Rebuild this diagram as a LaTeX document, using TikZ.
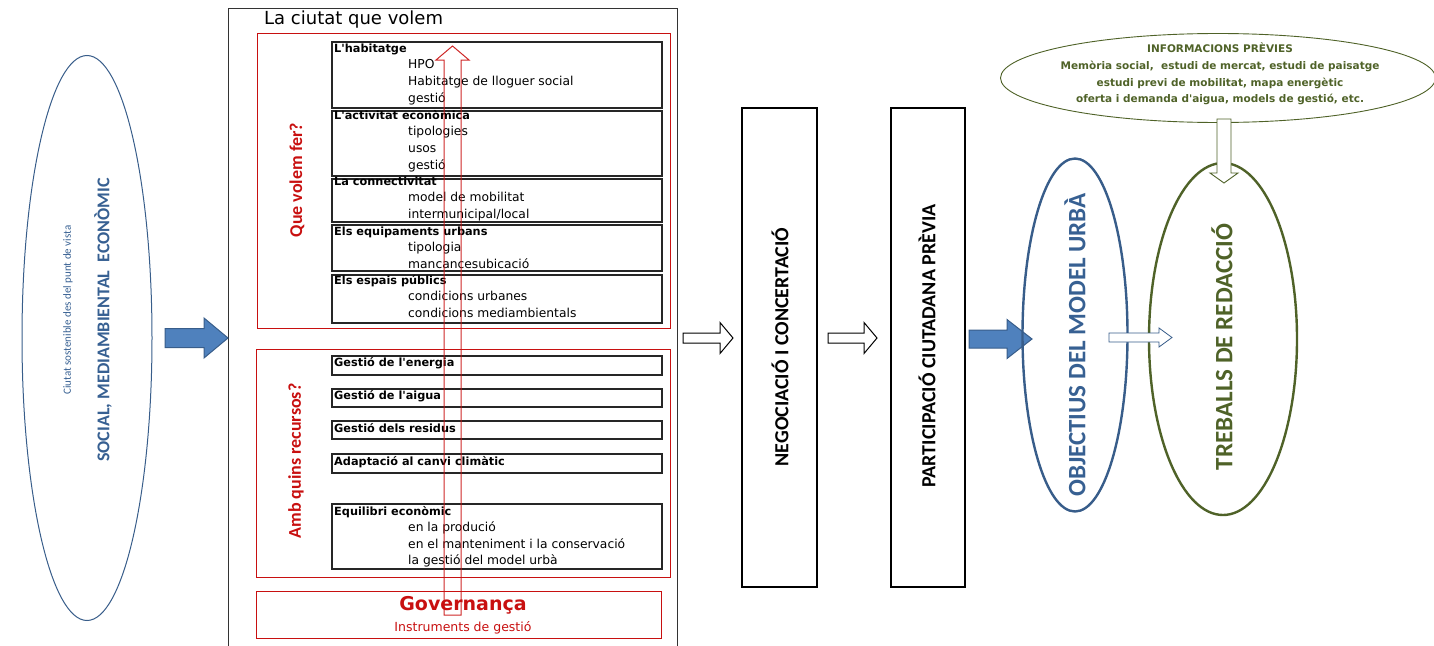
\documentclass[tikz,border=0pt]{standalone}
\usepackage{fontspec}
\setmainfont{Carlito}
\newfontfamily\verd{DejaVu Sans}
\usetikzlibrary{shapes.geometric,calc}

\definecolor{mblue}{RGB}{55,96,146}
\definecolor{lblue}{RGB}{79,129,189}
\definecolor{dblue}{RGB}{56,93,138}
\definecolor{olive}{RGB}{79,98,40}
\definecolor{mred}{RGB}{200,16,16}

% horizontal block arrow: [style]{start}{tip}{half shaft}{half head}{head length}
\newcommand{\harrow}[6][]{%
  \draw[#1] ($(#2)+(0,-#4)$) -- ($(#3)+(-#6,-#4)$) -- ($(#3)+(-#6,-#5)$) -- (#3)
    -- ($(#3)+(-#6,#5)$) -- ($(#3)+(-#6,#4)$) -- ($(#2)+(0,#4)$) -- cycle;}
% vertical block arrow, head length signed (+ up, - down)
\newcommand{\varrow}[6][]{%
  \draw[#1] ($(#2)+(-#4,0)$) -- ($(#3)+(-#4,#6)$) -- ($(#3)+(-#5,#6)$) -- (#3)
    -- ($(#3)+(#5,#6)$) -- ($(#3)+(#4,#6)$) -- ($(#2)+(#4,0)$) -- cycle;}

\tikzset{
  redbox/.style={draw=mred, line width=1.3pt, anchor=north west, inner sep=0pt},
  itembox/.style={draw=black!85, line width=1.8pt, anchor=north west, inner sep=0pt},
  ttl/.style={anchor=west, inner sep=0pt, text height=8pt, text depth=2pt,
    font=\verd\bfseries\fontsize{11.3}{13}\selectfont},
  itm/.style={anchor=west, inner sep=0pt, text height=8.5pt, text depth=2pt,
    font=\verd\fontsize{12.3}{14}\selectfont},
  vlabel/.style={rotate=90, inner sep=0pt, font=\bfseries\fontsize{#1}{#1}\selectfont},
  bluearr/.style={fill=lblue, draw=dblue, line width=1pt},
  openarr/.style={fill=white, draw=black, line width=1pt}
}

\begin{document}
\begin{tikzpicture}[x=1pt,y=-1pt]
	\useasboundingbox (0,0) rectangle (1434,645);

	% left ellipse
	\node[ellipse, draw=dblue, line width=1pt, minimum width=130, minimum height=565] (ciu) at (87,338) {};
	\node[rotate=90, inner sep=0pt, text=mblue, font=\fontsize{11}{13}\selectfont] (ciuA) at (68,310) {Ciutat sostenible des del punt de vista};
	\node[vlabel=18, text=mblue] (ciuB) at (103,320) {SOCIAL, MEDIAMBIENTAL \ ECONÒMIC};

	\coordinate (a1s) at (165,338);

	% la ciutat que volem
	\node[draw=black!80, line width=1.3pt, anchor=north west, inner sep=0pt, minimum width=449, minimum height=645] (main) at (228,8) {};
	\node[anchor=west, inner sep=0pt, font=\verd\fontsize{18}{20}\selectfont] (mainT) at (264,20) {La ciutat que volem};
	\coordinate (a1e) at (a1s -| main.west);
	\harrow[bluearr]{a1s}{a1e}{9.5}{20}{24}

	\node[redbox, minimum width=413, minimum height=295] (que) at (257,33) {};
	\node[vlabel=18, text=mred] (queT) at (297,180) {Que volem fer?};

	\node[itembox, minimum width=330, minimum height=66] (hab) at (331,41) {};
	\node[ttl] (habT) at (334,49) {L\textquotesingle habitatge};
	\foreach \t [count=\i] in {HPO, Habitatge de lloguer social, gestió}
		\node[itm] (hab\i) at (408,{49+16.7*\i}) {\t};

	\node[itembox, minimum width=330, minimum height=65] (act) at (331,110) {};
	\node[ttl] (actT) at (334,116) {L\textquotesingle activitat econòmica};
	\foreach \t [count=\i] in {tipologies, usos, gestió}
		\node[itm] (act\i) at (408,{116+16.7*\i}) {\t};

	\node[itembox, minimum width=330, minimum height=43] (con) at (331,178) {};
	\node[ttl] (conT) at (334,182) {La connectivitat};
	\foreach \t [count=\i] in {model de mobilitat, intermunicipal/local}
		\node[itm] (con\i) at (408,{182+16.7*\i}) {\t};

	\node[itembox, minimum width=330, minimum height=46] (equ) at (331,224) {};
	\node[ttl] (equT) at (334,232) {Els equipaments urbans};
	\foreach \t [count=\i] in {tipologia, mancancesubicació}
		\node[itm] (equ\i) at (408,{232+16.7*\i}) {\t};

	\node[itembox, minimum width=330, minimum height=48] (esp) at (331,274) {};
	\node[ttl] (espT) at (334,281) {Els espais públics};
	\foreach \t [count=\i] in {condicions urbanes, condicions mediambientals}
		\node[itm] (esp\i) at (408,{281+16.7*\i}) {\t};

	% amb quins recursos
	\node[redbox, minimum width=414, minimum height=228] (rec) at (256,349) {};
	\node[vlabel=18, text=mred] (recT) at (296,461) {Amb quins recursos?};

	\node[itembox, minimum width=330, minimum height=19] (ene) at (331,355) {};
	\node[ttl] (eneT) at (334,363) {Gestió de l\textquotesingle energia};
	\node[itembox, minimum width=330, minimum height=18] (aig) at (331,388) {};
	\node[ttl] (aigT) at (334,396) {Gestió de l\textquotesingle aigua};
	\node[itembox, minimum width=330, minimum height=18] (res) at (331,420) {};
	\node[ttl] (resT) at (334,429) {Gestió dels residus};
	\node[itembox, minimum width=330, minimum height=19] (ada) at (331,453) {};
	\node[ttl] (adaT) at (334,462) {Adaptació al canvi climàtic};

	\node[itembox, minimum width=330, minimum height=65] (eco) at (331,503) {};
	\node[ttl] (ecoT) at (334,512) {Equilibri econòmic};
	\foreach \t [count=\i] in {en la produció, en el manteniment i la conservació, la gestió del model urbà}
		\node[itm] (eco\i) at (408,{512+16.5*\i}) {\t};

	% governanca
	\node[redbox, minimum width=405, minimum height=47] (gov) at (256,591) {};
	\node[anchor=base, inner sep=0pt, text=mred, font=\verd\bfseries\fontsize{19}{21}\selectfont] (govT) at (463,610) {Governança};
	\node[anchor=base, inner sep=0pt, text=mred, font=\verd\fontsize{12.5}{14}\selectfont] (govS) at (463,631) {Instruments de gestió};

	\coordinate (upS) at (452.5,615);
	\coordinate (upE) at (452.5,46);
	\varrow[draw=mred, line width=1pt, opacity=0.9]{upS}{upE}{8.5}{16.5}{14}

	% negociacio i participacio
	\coordinate (a2s) at (683,338);
	\coordinate (a2e) at (733,338);
	\harrow[openarr]{a2s}{a2e}{5}{15.5}{13}
	\node[draw, line width=2pt, anchor=north west, inner sep=0pt, minimum width=75, minimum height=479] (neg) at (741,107) {};
	\node[vlabel=20] (negT) at (780,347) {NEGOCIACIÓ I CONCERTACIÓ};

	\coordinate (a3s) at (828,338);
	\coordinate (a3e) at (877,338);
	\harrow[openarr]{a3s}{a3e}{5}{15.5}{13}
	\node[draw, line width=2pt, anchor=north west, inner sep=0pt, minimum width=74, minimum height=479] (par) at (890,107) {};
	\node[vlabel=20] (parT) at (927,346) {PARTICIPACIÓ CIUTADANA PRÈVIA};

	\coordinate (a4s) at (969,339);
	\coordinate (a4e) at (1032,339);
	\harrow[bluearr]{a4s}{a4e}{9}{19.5}{25}

	% objectius i treballs
	\node[ellipse, draw=dblue, line width=2.4pt, minimum width=105, minimum height=353] (obj) at (1075,335) {};
	\node[vlabel=25, text=mblue] (objT) at (1075,345) {OBJECTIUS DEL MODEL URBÀ};

	\node[ellipse, draw=olive, line width=2.4pt, minimum width=148, minimum height=352] (tre) at (1223,339) {};
	\node[vlabel=25, text=olive] (treT) at (1222,347) {TREBALLS DE REDACCIÓ};

	\coordinate (a5s) at (1109,337.5);
	\coordinate (a5e) at (1172,337.5);
	\harrow[fill=white, draw=dblue, line width=0.8pt]{a5s}{a5e}{4.5}{9.5}{13}

	\node[ellipse, draw=olive, line width=0.9pt, minimum width=435, minimum height=89] (inf) at (1218,78) {};
	\node[align=center, inner sep=0pt, text=olive, font=\verd\bfseries\fontsize{10.5}{16.7}\selectfont] (infT) at (1220,74)
		{INFORMACIONS PRÈVIES\\Memòria social,\ \ estudi de mercat, estudi de paisatge\\estudi previ de mobilitat, mapa energètic\\oferta i demanda d\textquotesingle aigua, models de gestió, etc.};

	\coordinate (a6s) at (1224,119);
	\coordinate (a6e) at (1224,183);
	\varrow[fill=white, draw=olive, line width=0.9pt]{a6s}{a6e}{7}{14}{-10}
\end{tikzpicture}
\end{document}
